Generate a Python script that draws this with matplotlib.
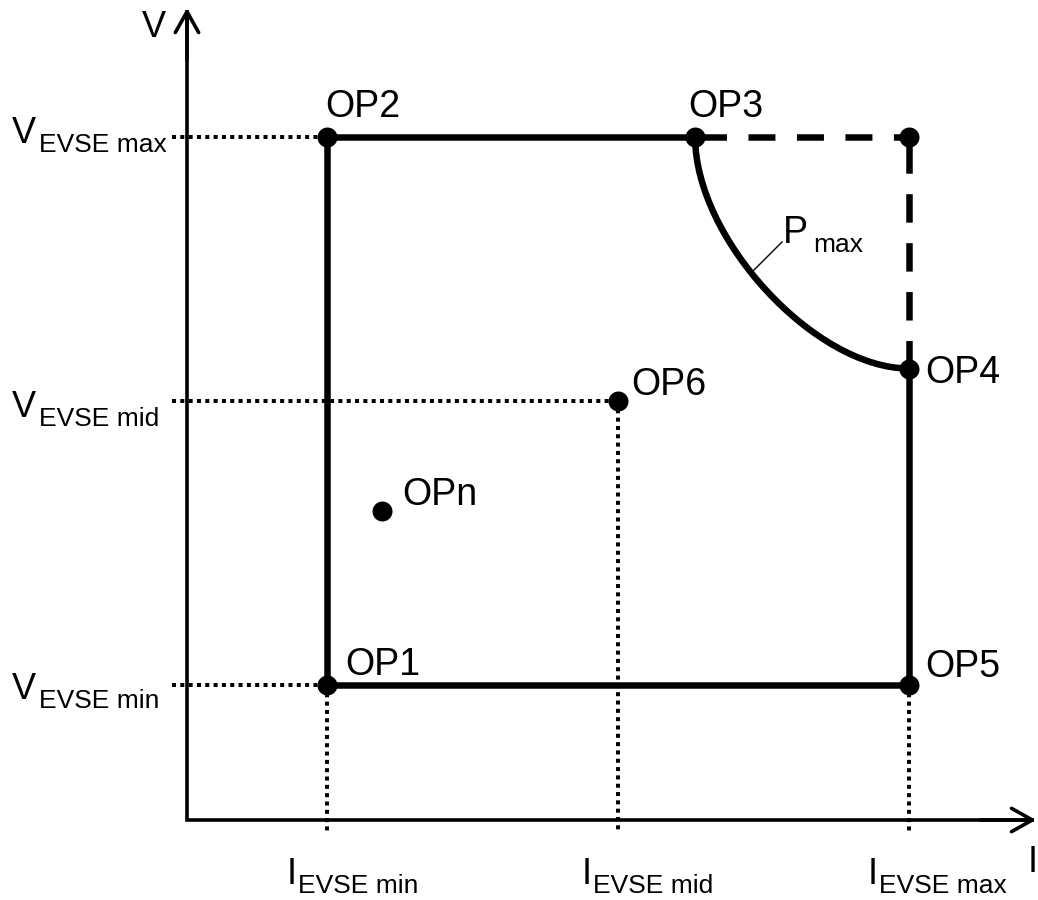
import matplotlib
matplotlib.use("Agg")
import matplotlib.pyplot as plt
from matplotlib.path import Path
from matplotlib.patches import PathPatch

plt.rcParams['font.family'] = ['Liberation Sans', 'DejaVu Sans']

# ---------------- data (I and V in arbitrary units) ----------------
I_levels = [1.0, 3.0, 5.0]          # I_EVSE min, mid, max
V_levels = [1.0, 3.07, 5.0]         # V_EVSE min, mid, max
I_labels = ['min', 'mid', 'max']
V_labels = ['min', 'mid', 'max']

op_names = ['OP1', 'OP2', 'OP3', 'OP4', 'OP5', 'OP6', 'OPn']
op_I = [1.0, 1.0, 3.53, 5.0, 5.0, 3.0, 1.38]
op_V = [1.0, 5.0, 5.0, 3.31, 1.0, 3.07, 2.27]
corner_I, corner_V = 5.0, 5.0       # (I_max, V_max) corner, cut off by P_max

# ---------------- layout helpers (pixel -> data) ----------------
W, H = 1038, 900
SX, X0 = 145.5, 181.5   # px per unit I, px of I=0
SY, Y1 = 137.0, 685.0   # px per unit V, px of V=1


def dx(px):
    return (px - X0) / SX


def dy(py):
    return 1 + (Y1 - py) / SY


PX = 100 / 72.0  # pixels per point

fig = plt.figure(figsize=(W / 100, H / 100), dpi=100)
ax = fig.add_axes([0, 0, 1, 1])
ax.set_xlim(dx(0), dx(W))
ax.set_ylim(dy(H), dy(0))
ax.axis('off')

# ---------------- axes with arrows ----------------
axis_lw = 3.6 / PX
ax.plot([dx(187), dx(187), dx(1034)], [dy(10), dy(820), dy(820)],
        color='black', lw=axis_lw, solid_joinstyle='miter',
        solid_capstyle='butt', zorder=2)
head = '->,head_length=0.75,head_width=0.42'
ax.annotate('', xy=(dx(187), dy(8)), xytext=(dx(187), dy(60)),
            arrowprops=dict(arrowstyle=head, lw=axis_lw, color='black',
                            shrinkA=0, shrinkB=0, mutation_scale=20))
ax.annotate('', xy=(dx(1036), dy(820)), xytext=(dx(980), dy(820)),
            arrowprops=dict(arrowstyle=head, lw=axis_lw, color='black',
                            shrinkA=0, shrinkB=0, mutation_scale=20))
ax.text(dx(142), dy(37), 'V', fontsize=26, ha='left', va='baseline')
ax.text(dx(1028), dy(872), 'I', fontsize=26, ha='left', va='baseline')

# ---------------- dotted guide lines ----------------
dot_lw = 4.0 / PX
dot_ls = (0, (1, 1.08))
# horizontal guides from the V labels to the operating points
h_targets = [op_I[0], op_I[5], op_I[1]]   # OP1, OP6, OP2
for v, it in zip(V_levels, h_targets):
    ax.plot([dx(172), it], [v, v], color='black', lw=dot_lw, ls=dot_ls,
            dash_capstyle='butt', zorder=2)
# vertical guides from operating points down past the I axis
v_targets = [op_V[0], op_V[5], op_V[4]]   # OP1, OP6, OP5
for i, vt in zip(I_levels, v_targets):
    ax.plot([i, i], [vt, dy(833)], color='black', lw=dot_lw, ls=dot_ls,
            dash_capstyle='butt', zorder=2)

# ---------------- operating area (thick solid) ----------------
thick = 6.5 / PX
ax.plot([op_I[2], op_I[1], op_I[0], op_I[4], op_I[3]],
        [op_V[2], op_V[1], op_V[0], op_V[4], op_V[3]],
        color='black', lw=thick, solid_joinstyle='miter',
        solid_capstyle='butt', zorder=3)

# dashed cut-off corner
ax.plot([op_I[2], corner_I], [op_V[2], corner_V], color='black', lw=thick,
        ls=(6.77, (4.15, 3.31)), dash_capstyle='butt', zorder=3)
ax.plot([op_I[3], corner_I], [op_V[3], corner_V], color='black', lw=thick,
        ls=(0, (4.38, 3.15)), dash_capstyle='butt', zorder=3)

# P_max curve from OP3 to OP4
f = 0.44
verts = [(op_I[2], op_V[2]),
         (op_I[2], op_V[2] - f * (op_V[2] - op_V[3])),
         (op_I[3] - f * (op_I[3] - op_I[2]), op_V[3]),
         (op_I[3], op_V[3])]
codes = [Path.MOVETO, Path.CURVE4, Path.CURVE4, Path.CURVE4]
ax.add_patch(PathPatch(Path(verts, codes), facecolor='none',
                       edgecolor='black', lw=thick, zorder=3))

# P_max label with leader line
ax.plot([dx(752), dx(782)], [dy(272), dy(242)], color='black', lw=1.4 / PX,
        zorder=3)
ax.text(dx(783), dy(243), 'P', fontsize=27, ha='left', va='baseline')
ax.text(dx(813), dy(252), 'max', fontsize=19, ha='left', va='baseline')

# ---------------- operating points ----------------
ax.plot(op_I + [corner_I], op_V + [corner_V], 'o', color='black',
        ms=20 / PX, mew=0, zorder=5)

op_offsets = {'OP1': (18, 10), 'OP2': (-2, 20), 'OP3': (-7, 20),
              'OP4': (16, -14), 'OP5': (16, 8), 'OP6': (13, 6),
              'OPn': (20, 6)}
for name, i, v in zip(op_names, op_I, op_V):
    ox, oy = op_offsets[name]
    ax.annotate(name, xy=(i, v), xytext=(ox, oy), textcoords='offset pixels',
                fontsize=27, ha='left', va='baseline')

# ---------------- level labels ----------------
V_label_baselines = [699, 417, 143]
for lab, yb in zip(V_labels, V_label_baselines):
    ax.text(dx(12), dy(yb), 'V', fontsize=26, ha='left', va='baseline')
    ax.text(dx(39), dy(yb + 9), 'EVSE ' + lab, fontsize=19, ha='left',
            va='baseline')

I_label_left = [287, 582, 868]
for lab, xl in zip(I_labels, I_label_left):
    ax.text(dx(xl), dy(884), 'I', fontsize=26, ha='left', va='baseline')
    ax.text(dx(xl + 11), dy(893), 'EVSE ' + lab, fontsize=19, ha='left',
            va='baseline')

fig.savefig('out.png', dpi=100, facecolor='white')
